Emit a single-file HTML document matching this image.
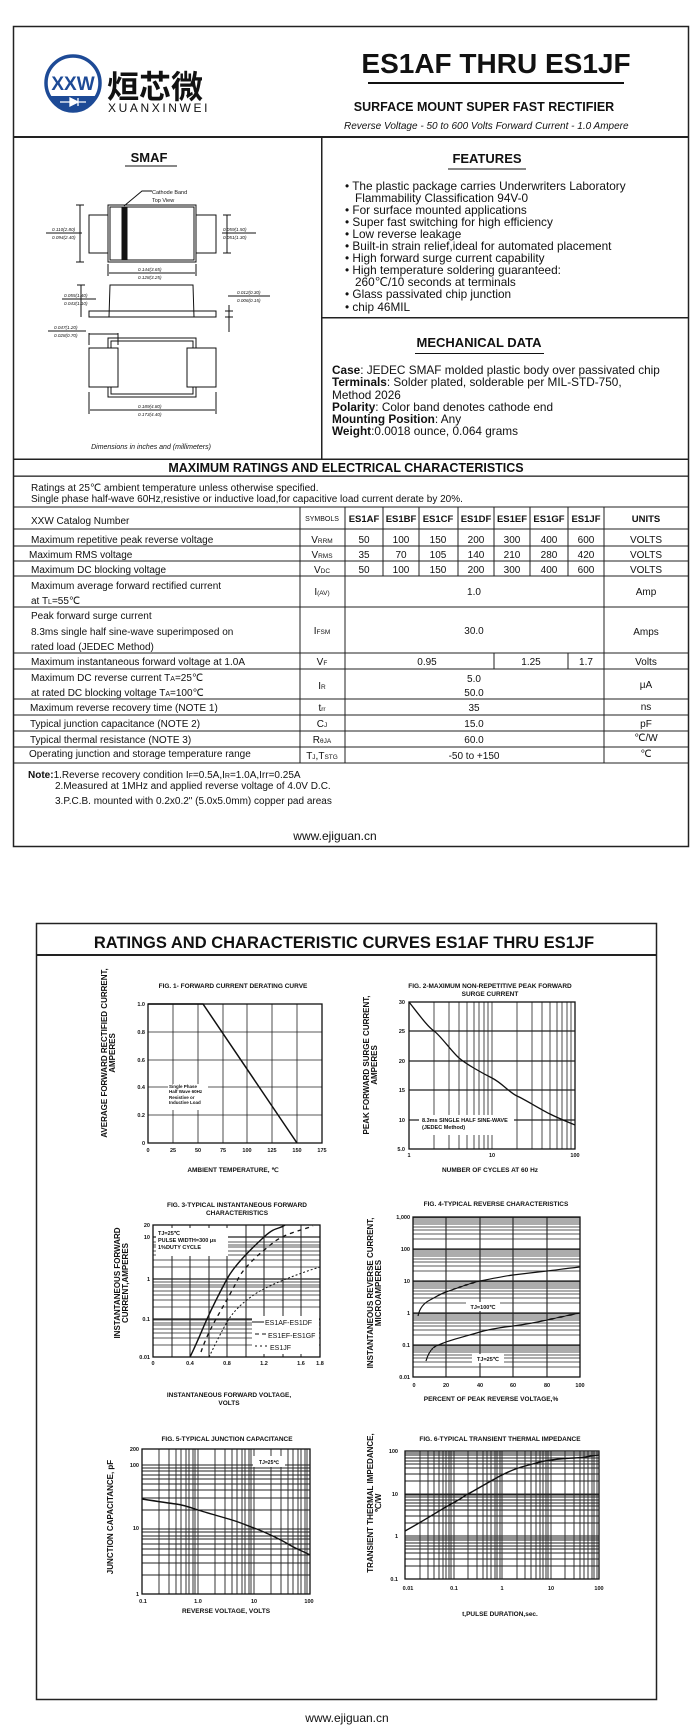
<!DOCTYPE html>
<html><head><meta charset="utf-8"><style>
html,body{margin:0;padding:0;background:#fff}
svg{display:block}
text{font-family:"Liberation Sans",Arial,sans-serif;fill:#111}
.b{font-weight:bold}
.g{stroke:#222;stroke-width:0.8;fill:none}
.gl{stroke:#333;stroke-width:0.5;fill:none}
</style></head><body>
<svg width="694" height="1736" viewBox="0 0 694 1736" xmlns="http://www.w3.org/2000/svg">
<!-- ================= PAGE 1 BOX ================= -->
<rect x="13.5" y="26.5" width="675" height="820" fill="none" stroke="#222" stroke-width="1.5"/>
<!-- logo -->
<circle cx="73" cy="83" r="27" fill="none" stroke="#1d4a96" stroke-width="3.5"/>
<path d="M48 96 A27 27 0 0 0 98 96 Z" fill="#1d4a96"/>
<text x="73" y="90" font-size="19" text-anchor="middle" style="fill:#1d4a96" class="b">XXW</text>
<path d="M60 102 H86 M70 98 V106 L78 102 Z M78 98 V106" stroke="#fff" stroke-width="1.3" fill="#fff"/>
<text x="107" y="98" font-size="32" style="font-family:'Noto Sans CJK SC','WenQuanYi Zen Hei',sans-serif;fill:#111" class="b">烜芯微</text>
<text x="108" y="112" font-size="12" letter-spacing="2.6">XUANXINWEI</text>
<!-- title -->
<text x="496" y="73" font-size="28" class="b" text-anchor="middle">ES1AF THRU ES1JF</text>
<rect x="368" y="82" width="256" height="2" fill="#111"/>
<text x="484" y="111" font-size="12.5" class="b" text-anchor="middle">SURFACE MOUNT SUPER FAST RECTIFIER</text>
<text x="344" y="129" font-size="10" font-style="italic">Reverse Voltage - 50 to 600 Volts   Forward Current - 1.0 Ampere</text>
<!-- dividers -->
<rect x="13" y="136" width="675" height="2" fill="#222"/>
<rect x="321" y="137" width="1.5" height="322" fill="#222"/>
<rect x="322" y="317" width="366" height="1.5" fill="#222"/>
<rect x="13" y="458.5" width="675" height="1.5" fill="#222"/>
<!-- SMAF -->
<text x="149" y="162" font-size="13" class="b" text-anchor="middle">SMAF</text>
<rect x="125" y="165.5" width="52" height="1" fill="#111"/>
<text x="487" y="163" font-size="13" class="b" text-anchor="middle">FEATURES</text>
<rect x="448" y="168.5" width="78" height="1" fill="#111"/>
<g font-size="11.8">
<text x="345" y="190">• The plastic package carries Underwriters Laboratory</text>
<text x="355" y="202">Flammability Classification 94V-0</text>
<text x="345" y="214">• For surface mounted applications</text>
<text x="345" y="226">• Super fast switching for high efficiency</text>
<text x="345" y="238">• Low reverse leakage</text>
<text x="345" y="250">• Built-in strain relief,ideal for automated placement</text>
<text x="345" y="262">• High forward surge current capability</text>
<text x="345" y="274">• High temperature soldering guaranteed:</text>
<text x="355" y="286">260℃/10 seconds at terminals</text>
<text x="345" y="298">• Glass passivated chip junction</text>
<text x="345" y="311">• chip 46MIL</text>
</g>
<text x="479" y="347" font-size="13" class="b" text-anchor="middle">MECHANICAL DATA</text>
<rect x="415" y="353" width="129" height="1" fill="#111"/>
<g font-size="11.8">
<text x="332" y="374"><tspan class="b">Case</tspan>: JEDEC SMAF molded plastic body over passivated chip</text>
<text x="332" y="386"><tspan class="b">Terminals</tspan>: Solder plated, solderable per MIL-STD-750,</text>
<text x="332" y="399">Method 2026</text>
<text x="332" y="411"><tspan class="b">Polarity</tspan>: Color band denotes cathode end</text>
<text x="332" y="423"><tspan class="b">Mounting Position</tspan>: Any</text>
<text x="332" y="435"><tspan class="b">Weight</tspan>:0.0018 ounce, 0.064 grams</text>
</g>
<!-- package drawing -->
<g stroke="#111" fill="none" stroke-width="1">
<rect x="108" y="205" width="88" height="57"/><rect x="110" y="207" width="84" height="53"/>
<rect x="89" y="215" width="19" height="38"/><rect x="196" y="215" width="20" height="38"/>
<rect x="122" y="207" width="5" height="53" fill="#111"/>
<path d="M124 206 L142 191 H152"/>
<path d="M80 205 V262 M76 205 H84 M76 262 H84 M46 233 H82"/>
<path d="M227 215 V253 M223 215 H231 M223 253 H231 M222 233 H256"/>
<path d="M108 264 V276 M196 264 V276 M109 273 H195"/>
<path d="M109 317 L110 285 H193 L194 317 M89 311 H216 V317 H89 Z"/>
<path d="M81 285 V317 M77 285 H85 M62 299 H96"/>
<path d="M229 305 V322 M225 311 H233 M225 317 H233 M228 296 H270 M229 322 V332"/>
<rect x="108" y="338" width="88" height="59"/><rect x="111" y="341" width="82" height="53"/>
<rect x="89" y="348" width="29" height="39" fill="#fff"/><rect x="187" y="348" width="29" height="39" fill="#fff"/>
<path d="M89 333 V345 M118 333 V345 M89 334 H118 M48 331 H86"/>
<path d="M89 392 V414 M216 392 V414 M90 410 H215"/>
</g>
<g font-size="4.6" font-style="italic">
<text x="152" y="194" font-style="normal" font-size="5.5">Cathode Band</text>
<text x="152" y="202" font-style="normal" font-size="5.5">Top View</text>
<text x="52" y="231">0.110(2.80)</text><text x="52" y="239">0.094(2.40)</text>
<text x="223" y="231">0.059(1.50)</text><text x="223" y="239">0.051(1.30)</text>
<text x="138" y="271">0.144(3.65)</text><text x="138" y="279">0.128(3.25)</text>
<text x="64" y="297">0.055(1.40)</text><text x="64" y="305">0.043(1.10)</text>
<text x="237" y="294">0.012(0.30)</text><text x="237" y="302">0.006(0.15)</text>
<text x="54" y="329">0.047(1.20)</text><text x="54" y="337">0.028(0.70)</text>
<text x="138" y="408">0.189(4.80)</text><text x="138" y="416">0.173(4.40)</text>
</g>
<text x="151" y="449" font-size="7" font-style="italic" text-anchor="middle">Dimensions in inches and (millimeters)</text>
<!-- MAX RATINGS -->
<text x="346" y="472" font-size="12.5" class="b" text-anchor="middle">MAXIMUM RATINGS AND ELECTRICAL CHARACTERISTICS</text>
<rect x="13" y="475.5" width="675" height="1.3" fill="#222"/>
<g font-size="10">
<text x="31" y="491">Ratings at 25℃ ambient temperature unless otherwise specified.</text>
<text x="31" y="502">Single phase half-wave 60Hz,resistive or inductive load,for capacitive load current derate by 20%.</text>
</g>
<g stroke="#222" stroke-width="1">
<path d="M13 507 H688 M13 529 H688 M13 546 H688 M13 561 H688 M13 576 H688 M13 607 H688 M13 653 H688 M13 669 H688 M13 699 H688 M13 715 H688 M13 731 H688 M13 747 H688 M13 763 H688"/>
<path d="M300 507 V763 M345 507 V763 M604 507 V763 M383 507 V576 M419 507 V576 M458 507 V576 M494 507 V576 M530 507 V576 M568 507 V576 M494 653 V669 M568 653 V669"/>
</g>
<g font-size="10">
<text x="31" y="524">XXW Catalog  Number</text>
<text x="322" y="521" font-size="7" text-anchor="middle">SYMBOLS</text>
<g class="b" text-anchor="middle" font-size="9.5"><text x="364" y="522">ES1AF</text><text x="401" y="522">ES1BF</text><text x="438" y="522">ES1CF</text><text x="476" y="522">ES1DF</text><text x="512" y="522">ES1EF</text><text x="549" y="522">ES1GF</text><text x="586" y="522">ES1JF</text><text x="646" y="522">UNITS</text></g>
<text x="31" y="543">Maximum repetitive peak reverse voltage</text>
<text x="29" y="558">Maximum RMS voltage</text>
<text x="31" y="573">Maximum DC blocking voltage</text>
<g text-anchor="middle">
<text x="322" y="543">V<tspan font-size="6.5">RRM</tspan></text><text x="322" y="558">V<tspan font-size="6.5">RMS</tspan></text><text x="322" y="573">V<tspan font-size="6.5">DC</tspan></text>
<text x="364" y="543">50</text><text x="401" y="543">100</text><text x="438" y="543">150</text><text x="476" y="543">200</text><text x="512" y="543">300</text><text x="549" y="543">400</text><text x="586" y="543">600</text><text x="646" y="543">VOLTS</text>
<text x="364" y="558">35</text><text x="401" y="558">70</text><text x="438" y="558">105</text><text x="476" y="558">140</text><text x="512" y="558">210</text><text x="549" y="558">280</text><text x="586" y="558">420</text><text x="646" y="558">VOLTS</text>
<text x="364" y="573">50</text><text x="401" y="573">100</text><text x="438" y="573">150</text><text x="476" y="573">200</text><text x="512" y="573">300</text><text x="549" y="573">400</text><text x="586" y="573">600</text><text x="646" y="573">VOLTS</text>
<text x="322" y="595">I<tspan font-size="6.5">(AV)</tspan></text><text x="474" y="595">1.0</text><text x="646" y="595">Amp</text>
<text x="322" y="634">I<tspan font-size="6.5">FSM</tspan></text><text x="474" y="634">30.0</text><text x="646" y="635">Amps</text>
<text x="322" y="665">V<tspan font-size="6.5">F</tspan></text><text x="427" y="665">0.95</text><text x="531" y="665">1.25</text><text x="586" y="665">1.7</text><text x="646" y="665">Volts</text>
<text x="322" y="689">I<tspan font-size="6.5">R</tspan></text><text x="474" y="682">5.0</text><text x="474" y="696">50.0</text><text x="646" y="688">μA</text>
<text x="322" y="711">t<tspan font-size="6.5">rr</tspan></text><text x="474" y="711">35</text><text x="646" y="710">ns</text>
<text x="322" y="727">C<tspan font-size="6.5">J</tspan></text><text x="474" y="727">15.0</text><text x="646" y="727">pF</text>
<text x="322" y="743">R<tspan font-size="6.5">θJA</tspan></text><text x="474" y="743">60.0</text><text x="646" y="741">℃/W</text>
<text x="322" y="759">T<tspan font-size="6.5">J</tspan>,T<tspan font-size="6.5">STG</tspan></text><text x="474" y="759">-50 to +150</text><text x="646" y="757">℃</text>
</g>
<text x="31" y="589">Maximum average forward rectified current</text>
<text x="31" y="604">at T<tspan font-size="7">L</tspan>=55℃</text>
<text x="31" y="619">Peak forward surge current</text>
<text x="31" y="635">8.3ms single half sine-wave superimposed on</text>
<text x="31" y="650">rated load (JEDEC Method)</text>
<text x="31" y="665">Maximum instantaneous forward voltage at 1.0A</text>
<text x="31" y="681">Maximum DC reverse current       T<tspan font-size="7">A</tspan>=25℃</text>
<text x="31" y="696">at rated DC blocking voltage       T<tspan font-size="7">A</tspan>=100℃</text>
<text x="30" y="711">Maximum reverse recovery time      (NOTE 1)</text>
<text x="30" y="727">Typical junction capacitance (NOTE 2)</text>
<text x="30" y="743">Typical thermal resistance (NOTE 3)</text>
<text x="29" y="757">Operating junction and storage temperature range</text>
<text x="28" y="778"><tspan class="b">Note:</tspan>1.Reverse recovery condition I<tspan font-size="7">F</tspan>=0.5A,I<tspan font-size="7">R</tspan>=1.0A,Irr=0.25A</text>
<text x="55" y="789">2.Measured at 1MHz and applied reverse voltage of 4.0V D.C.</text>
<text x="55" y="804">3.P.C.B. mounted with 0.2x0.2" (5.0x5.0mm) copper pad areas</text>
</g>
<text x="335" y="840" font-size="12" text-anchor="middle">www.ejiguan.cn</text>

<!-- ================= PAGE 2 BOX ================= -->
<rect x="36.5" y="923.5" width="620" height="776" fill="none" stroke="#222" stroke-width="1.5"/>
<text x="344" y="948" font-size="16.5" class="b" text-anchor="middle">RATINGS AND CHARACTERISTIC CURVES ES1AF THRU ES1JF</text>
<rect x="37" y="954" width="620" height="2" fill="#222"/>

<!-- FIG 1 -->
<text x="233" y="988" font-size="6.5" class="b" text-anchor="middle">FIG. 1- FORWARD CURRENT DERATING CURVE</text>
<g class="g" stroke-width="1">
<path d="M173 1004 V1143 M198 1004 V1143 M223 1004 V1143 M247 1004 V1143 M272 1004 V1143 M297 1004 V1143 M148 1032 H322 M148 1060 H322 M148 1087 H322 M148 1115 H322"/>
</g>
<rect x="148" y="1004" width="174" height="139" fill="none" stroke="#111" stroke-width="1.3"/>
<rect x="168" y="1084" width="40" height="26" fill="#fff"/>
<path d="M148 1004 H203 L297 1143" stroke="#111" stroke-width="1.5" fill="none"/>
<g font-size="4.5" class="b"><text x="169" y="1088">Single Phase</text><text x="169" y="1093">Half Wave 60Hz</text><text x="169" y="1099">Resistive or</text><text x="169" y="1104">Inductive Load</text></g>
<g font-size="5.5" class="b" text-anchor="end"><text x="145" y="1006">1.0</text><text x="145" y="1034">0.8</text><text x="145" y="1062">0.6</text><text x="145" y="1089">0.4</text><text x="145" y="1117">0.2</text><text x="145" y="1145">0</text></g>
<g font-size="5.5" class="b" text-anchor="middle"><text x="148" y="1152">0</text><text x="173" y="1152">25</text><text x="198" y="1152">50</text><text x="223" y="1152">75</text><text x="247" y="1152">100</text><text x="272" y="1152">125</text><text x="297" y="1152">150</text><text x="322" y="1152">175</text></g>
<text x="233" y="1172" font-size="6.5" class="b" text-anchor="middle">AMBIENT TEMPERATURE, ℃</text>
<g font-size="8" class="b" text-anchor="middle"><text transform="translate(107,1053) rotate(-90)">AVERAGE FORWARD RECTIFIED CURRENT,</text><text transform="translate(115,1053) rotate(-90)">AMPERES</text></g>

<!-- FIG 2 -->
<text x="490" y="988" font-size="6.5" class="b" text-anchor="middle">FIG. 2-MAXIMUM NON-REPETITIVE PEAK FORWARD</text>
<text x="490" y="996" font-size="6.5" class="b" text-anchor="middle">SURGE CURRENT</text>
<g class="g" stroke-width="1">
<path d="M434 1002 V1149 M449 1002 V1149 M459 1002 V1149 M467 1002 V1149 M474 1002 V1149 M479 1002 V1149 M484 1002 V1149 M488 1002 V1149 M492 1002 V1149 M517 1002 V1149 M532 1002 V1149 M542 1002 V1149 M550 1002 V1149 M557 1002 V1149 M562 1002 V1149 M567 1002 V1149 M571 1002 V1149"/>
<path d="M409 1031 H575 M409 1061 H575 M409 1090 H575 M409 1120 H575" stroke-width="1.3"/>
</g>
<rect x="409" y="1002" width="166" height="147" fill="none" stroke="#111" stroke-width="1.3"/>
<rect x="419" y="1115" width="95" height="20" fill="#fff"/>
<path d="M409 1002 C420 1016 428 1027 434 1031 S452 1052 459 1058 S482 1073 492 1078 S510 1093 517 1096 S540 1109 550 1114 S568 1122 575 1125" stroke="#111" stroke-width="1.3" fill="none"/>
<g font-size="5.5" class="b"><text x="422" y="1122">8.3ms SINGLE HALF SINE-WAVE</text><text x="422" y="1129">(JEDEC Method)</text></g>
<g font-size="5.5" class="b" text-anchor="end"><text x="405" y="1004">30</text><text x="405" y="1033">25</text><text x="405" y="1063">20</text><text x="405" y="1092">15</text><text x="405" y="1122">10</text><text x="405" y="1151">5.0</text></g>
<g font-size="5.5" class="b" text-anchor="middle"><text x="409" y="1157">1</text><text x="492" y="1157">10</text><text x="575" y="1157">100</text></g>
<text x="490" y="1172" font-size="6.5" class="b" text-anchor="middle">NUMBER OF CYCLES AT 60 Hz</text>
<g font-size="8" class="b" text-anchor="middle"><text transform="translate(369,1065) rotate(-90)">PEAK  FORWARD SURGE CURRENT,</text><text transform="translate(377,1065) rotate(-90)">AMPERES</text></g>

<!-- FIG 3 -->
<text x="237" y="1207" font-size="6.5" class="b" text-anchor="middle">FIG. 3-TYPICAL INSTANTANEOUS FORWARD</text>
<text x="237" y="1215" font-size="6.5" class="b" text-anchor="middle">CHARACTERISTICS</text>
<g class="g">
<path d="M172 1225 V1357 M190 1225 V1357 M209 1225 V1357 M227 1225 V1357 M246 1225 V1357 M264 1225 V1357 M283 1225 V1357 M301 1225 V1357" stroke-width="1"/>
<path d="M153 1345 H320 M153 1338 H320 M153 1333 H320 M153 1329 H320 M153 1325 H320 M153 1323 H320 M153 1320 H320 M153 1307 H320 M153 1300 H320 M153 1295 H320 M153 1291 H320 M153 1287 H320 M153 1285 H320 M153 1282 H320 M153 1267 H320 M153 1260 H320 M153 1255 H320 M153 1251 H320 M153 1247 H320 M153 1245 H320 M153 1242 H320"/>
<path d="M153 1319 H320 M153 1279 H320 M153 1237 H320" stroke-width="1.2"/>
</g>
<rect x="153" y="1225" width="167" height="132" fill="none" stroke="#111" stroke-width="1.3"/>
<rect x="156" y="1228" width="72" height="28" fill="#fff"/>
<rect x="252" y="1316" width="67" height="38" fill="#fff"/>
<path d="M190 1357 C197 1343 202 1330 207 1319 S220 1292 227 1279 S252 1248 264 1237 S278 1230 285 1225" stroke="#111" stroke-width="1.4" fill="none"/>
<path d="M201 1352 C205 1340 211 1328 216 1319 S231 1293 238 1279 S264 1250 274 1242 S302 1230 313 1226" stroke="#111" stroke-width="1.3" fill="none" stroke-dasharray="4,4"/>
<path d="M209 1357 C215 1345 222 1330 229 1319 S248 1298 260 1291 S300 1273 320 1267" stroke="#111" stroke-width="1" fill="none" stroke-dasharray="2,2"/>
<g font-size="5.5" class="b"><text x="158" y="1235">TJ=25℃</text><text x="158" y="1242">PULSE WIDTH=300 μs</text><text x="158" y="1249">1%DUTY CYCLE</text></g>
<g font-size="7"><text x="265" y="1325">ES1AF-ES1DF</text><text x="268" y="1338">ES1EF-ES1GF</text><text x="270" y="1350">ES1JF</text></g>
<path d="M252 1322 H264 M255 1334 H259 M262 1334 H266 M255 1346 H257 M260 1346 H262 M265 1346 H267" stroke="#111" stroke-width="1"/>
<g font-size="5.5" class="b" text-anchor="end"><text x="150" y="1227">20</text><text x="150" y="1239">10</text><text x="150" y="1281">1</text><text x="150" y="1321">0.1</text><text x="150" y="1359">0.01</text></g>
<g font-size="5.5" class="b" text-anchor="middle"><text x="153" y="1365">0</text><text x="190" y="1365">0.4</text><text x="227" y="1365">0.8</text><text x="264" y="1365">1.2</text><text x="301" y="1365">1.6</text><text x="320" y="1365">1.8</text></g>
<text x="229" y="1397" font-size="6.5" class="b" text-anchor="middle">INSTANTANEOUS FORWARD VOLTAGE,</text>
<text x="229" y="1405" font-size="6.5" class="b" text-anchor="middle">VOLTS</text>
<g font-size="8" class="b" text-anchor="middle"><text transform="translate(120,1283) rotate(-90)">INSTANTANEOUS FORWARD</text><text transform="translate(128,1283) rotate(-90)">CURRENT,AMPERES</text></g>

<!-- FIG 4 -->
<text x="496" y="1206" font-size="6.5" class="b" text-anchor="middle">FIG. 4-TYPICAL REVERSE CHARACTERISTICS</text>
<g class="g">
<path d="M446 1217 V1377 M480 1217 V1377 M513 1217 V1377 M547 1217 V1377" stroke-width="1.1"/>
<path d="M413 1367 H580 M413 1362 H580 M413 1358 H580 M413 1355 H580 M413 1352 H580 M413 1350 H580 M413 1348 H580 M413 1346 H580 M413 1335 H580 M413 1330 H580 M413 1326 H580 M413 1323 H580 M413 1320 H580 M413 1318 H580 M413 1316 H580 M413 1314 H580 M413 1303 H580 M413 1298 H580 M413 1294 H580 M413 1291 H580 M413 1288 H580 M413 1286 H580 M413 1284 H580 M413 1282 H580 M413 1271 H580 M413 1266 H580 M413 1262 H580 M413 1259 H580 M413 1256 H580 M413 1254 H580 M413 1252 H580 M413 1250 H580 M413 1239 H580 M413 1234 H580 M413 1230 H580 M413 1227 H580 M413 1224 H580 M413 1222 H580 M413 1220 H580 M413 1218 H580"/>
<path d="M413 1345 H580 M413 1313 H580 M413 1281 H580 M413 1249 H580" stroke-width="1.2"/>
</g>
<rect x="413" y="1217" width="167" height="160" fill="none" stroke="#111" stroke-width="1.3"/>
<rect x="466" y="1302" width="34" height="9" fill="#fff"/>
<rect x="472" y="1354" width="32" height="9" fill="#fff"/>
<path d="M418 1316 C420 1306 426 1302 430 1300 S440 1294 446 1292 S470 1283 480 1281 S505 1276 513 1275 S538 1272 547 1271 S570 1268 580 1267" stroke="#111" stroke-width="1.2" fill="none"/>
<path d="M426 1361 C428 1354 431 1350 433 1348 S441 1344 446 1342 S470 1335 480 1332 S505 1327 513 1326 S538 1322 547 1320 S570 1315 580 1313" stroke="#111" stroke-width="1.2" fill="none"/>
<text x="483" y="1309" font-size="5.5" class="b" text-anchor="middle">TJ=100℃</text>
<text x="488" y="1361" font-size="5.5" class="b" text-anchor="middle">TJ=25℃</text>
<g font-size="5.5" class="b" text-anchor="end"><text x="410" y="1219">1,000</text><text x="410" y="1251">100</text><text x="410" y="1283">10</text><text x="410" y="1315">1</text><text x="410" y="1347">0.1</text><text x="410" y="1379">0.01</text></g>
<g font-size="5.5" class="b" text-anchor="middle"><text x="414" y="1387">0</text><text x="446" y="1387">20</text><text x="480" y="1387">40</text><text x="513" y="1387">60</text><text x="547" y="1387">80</text><text x="580" y="1387">100</text></g>
<text x="491" y="1401" font-size="6.5" class="b" text-anchor="middle">PERCENT OF PEAK REVERSE VOLTAGE,%</text>
<g font-size="8" class="b" text-anchor="middle"><text transform="translate(373,1293) rotate(-90)">INSTANTANEOUS REVERSE CURRENT,</text><text transform="translate(381,1293) rotate(-90)">MICROAMPERES</text></g>

<!-- FIG 5 -->
<text x="227" y="1441" font-size="6.5" class="b" text-anchor="middle">FIG. 5-TYPICAL JUNCTION CAPACITANCE</text>
<g class="g">
<path d="M159 1449 V1594 M169 1449 V1594 M176 1449 V1594 M181 1449 V1594 M186 1449 V1594 M189 1449 V1594 M193 1449 V1594 M195 1449 V1594 M198 1449 V1594 M215 1449 V1594 M225 1449 V1594 M232 1449 V1594 M237 1449 V1594 M242 1449 V1594 M245 1449 V1594 M249 1449 V1594 M251 1449 V1594 M254 1449 V1594 M271 1449 V1594 M281 1449 V1594 M288 1449 V1594 M293 1449 V1594 M298 1449 V1594 M301 1449 V1594 M305 1449 V1594 M307 1449 V1594" stroke-width="0.9"/>
<path d="M142 1575 H310 M142 1563 H310 M142 1555 H310 M142 1549 H310 M142 1544 H310 M142 1539 H310 M142 1536 H310 M142 1532 H310 M142 1529 H310 M142 1510 H310 M142 1498 H310 M142 1490 H310 M142 1484 H310 M142 1479 H310 M142 1475 H310 M142 1471 H310 M142 1468 H310 M142 1465 H310" stroke-width="0.9"/>
</g>
<rect x="142" y="1449" width="168" height="145" fill="none" stroke="#111" stroke-width="1.3"/>
<rect x="253" y="1456" width="32" height="11" fill="#fff"/>
<text x="269" y="1464" font-size="5" class="b" text-anchor="middle">TJ=25℃</text>
<path d="M142 1499 C155 1501 168 1503 176 1504 S192 1508 198 1510 S222 1517 232 1520 S248 1526 254 1528 S278 1538 288 1544 S303 1551 310 1555" stroke="#111" stroke-width="1.4" fill="none"/>
<g font-size="5.5" class="b" text-anchor="end"><text x="139" y="1451">200</text><text x="139" y="1467">100</text><text x="139" y="1530">10</text><text x="139" y="1596">1</text></g>
<g font-size="5.5" class="b" text-anchor="middle"><text x="143" y="1603">0.1</text><text x="198" y="1603">1.0</text><text x="254" y="1603">10</text><text x="309" y="1603">100</text></g>
<text x="226" y="1613" font-size="6.5" class="b" text-anchor="middle">REVERSE VOLTAGE, VOLTS</text>
<text transform="translate(113,1517) rotate(-90)" font-size="8" class="b" text-anchor="middle">JUNCTION CAPACITANCE, pF</text>

<!-- FIG 6 -->
<text x="500" y="1441" font-size="6.5" class="b" text-anchor="middle">FIG. 6-TYPICAL TRANSIENT THERMAL IMPEDANCE</text>
<g class="g">
<path d="M420 1451 V1579 M428 1451 V1579 M434 1451 V1579 M439 1451 V1579 M443 1451 V1579 M446 1451 V1579 M449 1451 V1579 M451 1451 V1579 M454 1451 V1579 M468 1451 V1579 M477 1451 V1579 M483 1451 V1579 M487 1451 V1579 M491 1451 V1579 M495 1451 V1579 M497 1451 V1579 M500 1451 V1579 M502 1451 V1579 M517 1451 V1579 M525 1451 V1579 M531 1451 V1579 M536 1451 V1579 M540 1451 V1579 M543 1451 V1579 M546 1451 V1579 M548 1451 V1579 M551 1451 V1579 M565 1451 V1579 M574 1451 V1579 M580 1451 V1579 M584 1451 V1579 M588 1451 V1579 M592 1451 V1579 M594 1451 V1579 M597 1451 V1579" stroke-width="0.9"/>
<path d="M405 1566 H599 M405 1559 H599 M405 1553 H599 M405 1549 H599 M405 1546 H599 M405 1543 H599 M405 1540 H599 M405 1538 H599 M405 1536 H599 M405 1523 H599 M405 1516 H599 M405 1510 H599 M405 1506 H599 M405 1503 H599 M405 1500 H599 M405 1497 H599 M405 1495 H599 M405 1494 H599 M405 1481 H599 M405 1474 H599 M405 1468 H599 M405 1464 H599 M405 1461 H599 M405 1458 H599 M405 1455 H599 M405 1453 H599" stroke-width="0.9"/>
</g>
<rect x="405" y="1451" width="194" height="128" fill="none" stroke="#111" stroke-width="1.3"/>
<path d="M405 1531 C425 1520 440 1510 453 1503 S462 1497 468 1494 S492 1480 502 1475 S517 1468 525 1466 S542 1461 551 1460 S566 1458 574 1458 S590 1456 599 1455" stroke="#111" stroke-width="1.4" fill="none"/>
<g font-size="5.5" class="b" text-anchor="end"><text x="398" y="1453">100</text><text x="398" y="1496">10</text><text x="398" y="1538">1</text><text x="398" y="1581">0.1</text></g>
<g font-size="5.5" class="b" text-anchor="middle"><text x="408" y="1590">0.01</text><text x="454" y="1590">0.1</text><text x="502" y="1590">1</text><text x="551" y="1590">10</text><text x="599" y="1590">100</text></g>
<text x="500" y="1616" font-size="6.5" class="b" text-anchor="middle">t,PULSE DURATION,sec.</text>
<g font-size="8" class="b" text-anchor="middle"><text transform="translate(373,1503) rotate(-90)">TRANSIENT THERMAL IMPEDANCE,</text><text transform="translate(381,1503) rotate(-90)">℃/W</text></g>

<text x="347" y="1722" font-size="12" text-anchor="middle">www.ejiguan.cn</text>
</svg>
</body></html>
